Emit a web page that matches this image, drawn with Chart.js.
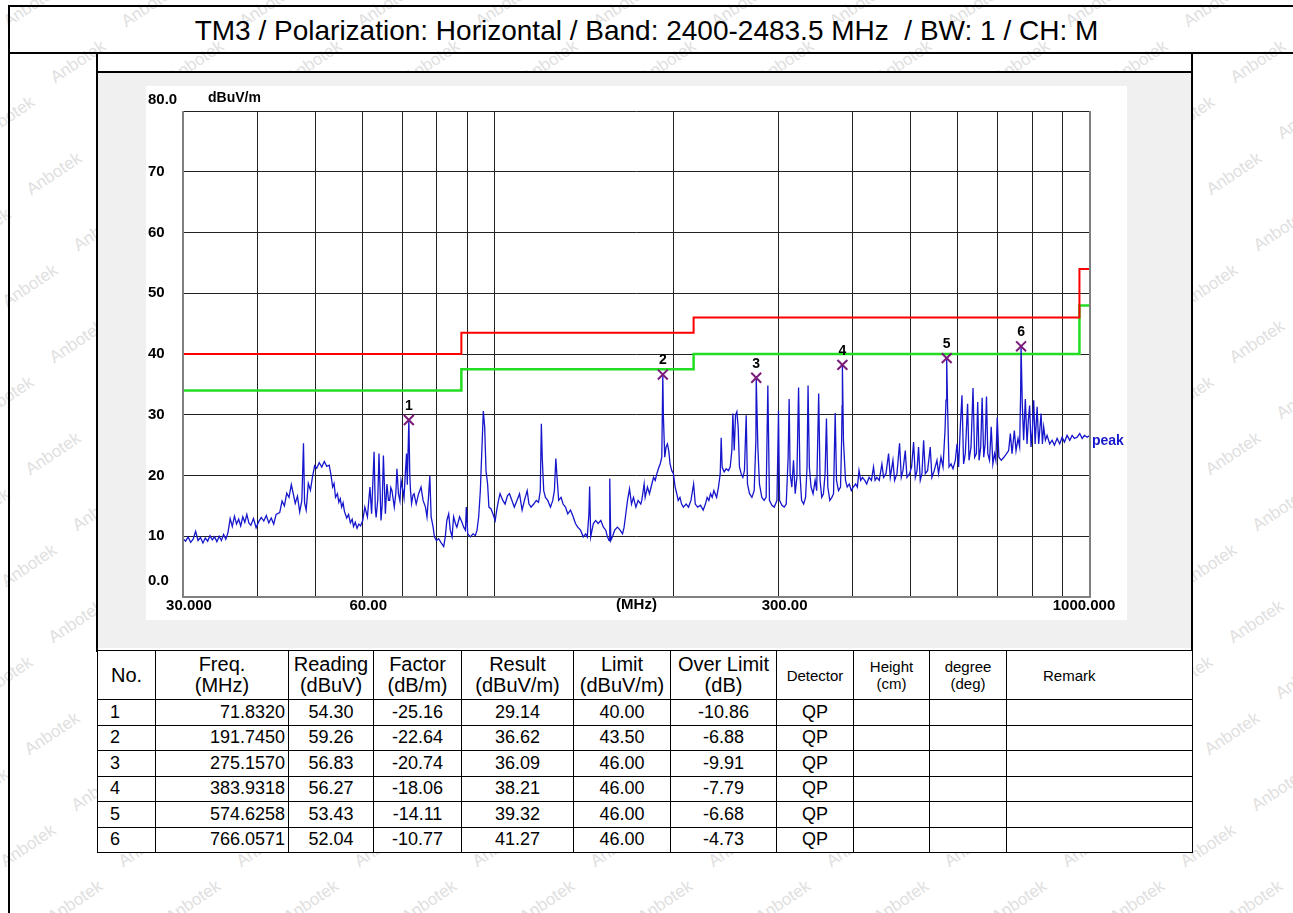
<!DOCTYPE html>
<html>
<head>
<meta charset="utf-8">
<script src="https://cdn.jsdelivr.net/npm/chart.js@4.4.0/dist/chart.umd.min.js"></script>
<style>
  body { margin: 0; background: #fff; font-family: "Liberation Sans", Arial, sans-serif; }
  #page { position: relative; width: 1293px; height: 913px; overflow: hidden; }
  .wm { position: absolute; color: #e0e0e0; font-size: 17px; transform: rotate(-34deg); white-space: nowrap; z-index: 0; }
  .ln { position: absolute; background: #000; z-index: 2; }
  #title { position: absolute; left: 0; width: 1293px; top: 15px; text-align: center; font-size: 28px; white-space: pre; color: #000; z-index: 2; }
  #panel { position: absolute; left: 98px; top: 73px; width: 1094px; height: 575px; background: #f0f0f0; z-index: 1; }
  #plot { position: absolute; left: 146px; top: 86px; background: #fff; z-index: 2; }
  #tbl { position: absolute; left: 97px; top: 650px; border-collapse: collapse; table-layout: fixed; width: 1096px; background: #fff; z-index: 2; }
  #tbl td, #tbl th { border: 1.5px solid #000; padding: 0; font-weight: normal; color: #000; text-align: center; white-space: nowrap; }
  #tbl th { height: 48px; font-size: 20px; line-height: 21px; }
  #tbl th.sm { font-size: 15px; line-height: 17px; }
  #tbl td { height: 24.5px; font-size: 18px; line-height: 19px; }
  #tbl td.no { text-align: left; padding-left: 12px; }
  #tbl td.fr { text-align: right; padding-right: 3px; }
</style>
</head>
<body>
<div id="page">
  <div class="ln" style="left:8px;top:5px;width:1285px;height:2px"></div>
  <div class="ln" style="left:8px;top:5px;width:2px;height:908px"></div>
  <div class="ln" style="left:8px;top:52px;width:1285px;height:2px"></div>
  <div id="title">TM3 / Polarization: Horizontal / Band: 2400-2483.5 MHz  / BW: 1 / CH: M</div>
  <div id="panel"></div>
  <div class="ln" style="left:96px;top:52px;width:2px;height:600px"></div>
  <div class="ln" style="left:1191px;top:52px;width:2px;height:600px"></div>
  <div class="ln" style="left:96px;top:71px;width:1097px;height:2px"></div>
  <canvas id="plot" width="981" height="534"></canvas>
  <table id="tbl">
    <colgroup>
      <col style="width:58px"><col style="width:133px"><col style="width:85px"><col style="width:88px">
      <col style="width:112px"><col style="width:97px"><col style="width:106px"><col style="width:77px">
      <col style="width:76px"><col style="width:77px"><col style="width:186px">
    </colgroup>
    <thead><tr id="head"></tr></thead>
    <tbody id="rows"></tbody>
  </table>
</div>
<script>
// measured trace, [MHz, dBuV/m]
const tracePoints = [
  [30.0, 9.6], [30.3, 9.2], [30.6, 9.9], [30.9, 9.0], [31.2, 9.5], [31.5, 10.8], [31.8, 9.3], [32.1, 9.8], [32.4, 8.9], [32.7, 9.7],
  [33.0, 9.2], [33.3, 10.1], [33.6, 9.4], [33.9, 9.9], [34.2, 9.1], [34.5, 10.0], [34.8, 9.3], [35.1, 10.3], [35.4, 9.5], [35.7, 10.6],
  [36.0, 12.9], [36.3, 11.6], [36.6, 13.3], [36.9, 12.0], [37.2, 12.8], [37.5, 11.7], [37.8, 13.2], [38.1, 12.3], [38.4, 13.6], [38.7, 12.2],
  [39.0, 11.8], [39.4, 12.9], [39.8, 11.4], [40.2, 12.4], [40.6, 13.1], [41.0, 12.5], [41.4, 13.4], [41.8, 12.2], [42.2, 13.0], [42.6, 12.0],
  [43.0, 13.6], [43.6, 13.9], [44.0, 15.8], [44.4, 15.0], [44.8, 17.1], [45.2, 16.4], [45.6, 18.5], [45.9, 17.2], [46.3, 15.4], [46.7, 16.6],
  [47.1, 14.0], [47.5, 15.9], [47.8, 25.3], [48.0, 15.5], [48.3, 14.3], [48.7, 18.7], [49.1, 17.6], [49.5, 19.8], [49.9, 21.6], [50.3, 21.2],
  [50.8, 22.1], [51.3, 21.4], [51.8, 22.3], [52.3, 21.5], [52.8, 21.7], [53.2, 19.9], [53.5, 18.1], [53.8, 18.7], [54.1, 16.4], [54.5, 17.0],
  [54.8, 15.6], [55.1, 16.2], [55.4, 14.8], [55.7, 15.5], [56.0, 14.1], [56.5, 13.0], [56.9, 13.6], [57.3, 12.2], [57.7, 12.8], [58.0, 11.6],
  [58.4, 12.3], [58.8, 11.3], [59.2, 12.0], [59.6, 11.7], [60.1, 12.6], [60.6, 14.8], [61.2, 13.2], [61.8, 18.1], [62.2, 13.7], [62.8, 23.9],
  [63.1, 14.5], [63.3, 13.1], [63.7, 16.0], [64.0, 23.6], [64.5, 12.6], [64.8, 15.2], [65.1, 23.3], [65.6, 13.7], [66.0, 18.6], [66.4, 15.9],
  [66.7, 15.9], [67.0, 18.0], [67.3, 17.5], [67.9, 14.8], [68.3, 17.0], [68.6, 21.1], [69.0, 17.0], [69.4, 15.8], [69.7, 19.2], [70.2, 17.5],
  [70.5, 16.3], [70.8, 19.7], [71.2, 23.6], [71.4, 18.5], [71.832, 29.14], [72.1, 20.0], [72.3, 17.5], [72.6, 15.4], [73.0, 16.8], [73.3, 17.0],
  [73.9, 15.3], [74.6, 17.0], [75.3, 18.1], [75.9, 15.9], [76.6, 14.8], [77.05, 13.2], [77.5, 16.4], [77.9, 19.9], [78.3, 13.2], [78.9, 11.5],
  [79.3, 9.9], [79.9, 9.3], [80.6, 9.6], [81.3, 9.0], [82.2, 8.3], [82.7, 9.9], [83.2, 12.6], [83.8, 13.7], [84.3, 11.0], [84.9, 9.9],
  [85.4, 13.2], [86.0, 12.1], [86.5, 11.5], [87.4, 13.2], [88.2, 12.3], [88.8, 11.5], [89.4, 11.0], [89.7, 14.8], [90.2, 10.4], [91.1, 9.9],
  [92.1, 10.4], [92.9, 10.1], [93.5, 11.0], [94.1, 13.2], [94.7, 17.5], [95.4, 25.8], [95.8, 30.6], [96.3, 28.0], [96.8, 20.8], [97.4, 18.6],
  [97.9, 14.8], [98.7, 14.5], [99.4, 13.7], [100.3, 12.6], [100.9, 14.3], [101.6, 15.9], [102.2, 17.0], [103.3, 15.9], [104.2, 15.3], [105.2, 16.7],
  [106.0, 17.0], [107.0, 15.9], [108.0, 14.8], [109.1, 15.9], [110.2, 17.0], [111.3, 14.3], [112.3, 15.9], [113.5, 17.5], [114.3, 15.3], [115.2, 14.8],
  [116.4, 15.3], [117.6, 15.9], [118.6, 15.6], [119.4, 17.5], [119.9, 28.5], [120.3, 23.0], [121.0, 17.5], [121.8, 16.4], [122.9, 15.9], [124.2, 14.8],
  [125.3, 15.9], [126.1, 17.5], [126.8, 22.8], [127.4, 19.7], [128.2, 15.9], [129.4, 16.4], [130.4, 15.3], [131.6, 14.8], [132.8, 13.7], [134.2, 14.3],
  [135.6, 13.2], [136.8, 12.1], [138.0, 11.5], [139.5, 11.0], [141.0, 9.9], [142.3, 10.4], [143.2, 9.9], [144.1, 13.7], [144.5, 18.2], [145.1, 9.9],
  [146.6, 12.1], [147.9, 12.6], [149.3, 12.1], [150.9, 12.6], [152.4, 11.5], [153.8, 11.0], [154.8, 9.9], [155.8, 9.3], [156.2, 19.5], [156.8, 9.3],
  [157.8, 9.9], [159.2, 11.0], [160.9, 11.5], [162.6, 11.0], [164.1, 10.4], [165.1, 11.5], [166.2, 13.7], [167.3, 15.9], [168.6, 17.8], [169.9, 15.3],
  [171.2, 16.4], [172.8, 14.8], [174.3, 15.9], [176.1, 15.3], [176.8, 15.9], [178.4, 18.6], [179.1, 16.4], [180.7, 18.1], [182.1, 17.0], [183.8, 18.6],
  [185.0, 19.7], [186.2, 19.2], [187.4, 20.3], [188.5, 21.1], [189.8, 21.9], [191.0, 23.0], [191.745, 36.62], [192.2, 29.6], [193.2, 23.0], [194.2, 24.7],
  [195.2, 25.2], [196.2, 24.1], [197.2, 21.9], [198.5, 20.8], [199.8, 20.3], [201.1, 18.1], [202.4, 17.0], [203.5, 15.9], [204.9, 16.4], [206.2, 15.3],
  [207.6, 14.8], [209.8, 15.3], [211.8, 14.8], [213.8, 15.9], [216.0, 18.6], [217.4, 15.3], [219.4, 14.8], [221.8, 15.1], [224.1, 14.3], [226.1, 15.3],
  [227.6, 16.4], [229.1, 15.9], [230.6, 17.0], [232.1, 16.4], [233.6, 17.5], [236.1, 16.4], [237.8, 18.1], [239.4, 20.3], [240.3, 26.2], [241.2, 21.4],
  [243.1, 20.6], [245.0, 21.1], [247.2, 20.8], [248.8, 21.4], [250.4, 24.1], [251.4, 30.2], [252.7, 24.1], [254.0, 29.9], [255.3, 30.5], [256.6, 28.0],
  [257.9, 21.4], [259.6, 20.3], [261.3, 19.7], [262.9, 20.8], [264.7, 29.9], [266.0, 18.6], [268.1, 17.0], [270.6, 16.4], [273.0, 17.5], [274.8, 25.8],
  [275.157, 36.09], [276.9, 24.7], [278.6, 18.6], [281.2, 16.4], [283.7, 15.9], [285.9, 16.4], [287.8, 34.8], [289.6, 15.9], [292.3, 15.1], [295.0, 14.8],
  [298.1, 15.9], [299.2, 24.7], [299.9, 30.7], [301.1, 15.9], [303.9, 15.1], [306.6, 14.8], [309.0, 15.3], [311.3, 23.0], [312.5, 32.6], [313.7, 20.3],
  [315.8, 18.1], [317.8, 22.5], [319.9, 17.0], [322.0, 19.7], [324.1, 34.5], [325.8, 20.3], [327.9, 15.9], [330.5, 15.3], [333.0, 16.4], [334.9, 21.4],
  [336.2, 34.8], [337.9, 21.4], [340.1, 18.1], [342.8, 17.0], [345.5, 19.2], [347.6, 17.5], [350.3, 33.5], [352.2, 19.2], [354.5, 16.4], [356.8, 17.0],
  [359.1, 20.3], [361.0, 29.4], [362.9, 18.1], [365.7, 15.9], [368.6, 16.4], [371.0, 17.0], [373.4, 30.3], [375.3, 19.2], [378.2, 17.5], [381.2, 18.1],
  [382.8, 25.8], [383.5, 31.5], [383.932, 38.21], [385.5, 25.8], [388.6, 19.2], [391.2, 18.1], [394.3, 18.6], [397.4, 17.5], [400.5, 18.1], [404.1, 18.6],
  [406.8, 18.1], [409.4, 20.8], [412.1, 19.2], [414.9, 19.7], [418.6, 19.2], [421.8, 18.6], [425.7, 19.7], [429.6, 19.2], [433.0, 21.4], [435.7, 19.2],
  [438.7, 19.7], [442.7, 19.2], [447.3, 21.9], [450.2, 19.7], [454.4, 20.3], [459.0, 23.6], [462.0, 19.7], [466.8, 22.5], [469.8, 19.2], [474.1, 20.3],
  [478.9, 25.3], [482.1, 19.7], [485.2, 20.8], [489.6, 24.1], [492.8, 19.7], [497.8, 20.3], [501.7, 21.4], [505.6, 25.5], [509.0, 19.7], [512.3, 20.8],
  [515.4, 24.7], [518.8, 19.2], [522.2, 20.3], [525.6, 25.8], [529.0, 20.3], [533.7, 20.8], [539.2, 24.7], [542.7, 19.7], [547.6, 20.8], [553.4, 22.5],
  [556.8, 20.3], [562.1, 23.0], [566.5, 21.4], [570.9, 27.4], [573.1, 32.4], [574.626, 39.32], [576.6, 31.3], [579.8, 21.4], [584.3, 21.9], [588.8, 21.1],
  [594.1, 22.5], [598.1, 25.2], [601.7, 21.4], [605.7, 28.0], [609.6, 33.2], [613.4, 21.9], [617.5, 23.6], [623.0, 31.8], [626.4, 22.5], [631.3, 24.7],
  [636.2, 34.4], [640.2, 23.0], [644.5, 23.6], [647.8, 32.1], [651.3, 22.5], [655.4, 24.7], [659.0, 32.8], [663.1, 23.0], [666.7, 25.2], [670.2, 33.0],
  [673.6, 23.6], [678.1, 22.5], [682.6, 28.0], [686.9, 21.9], [691.4, 23.6], [694.9, 22.5], [698.7, 29.6], [703.1, 23.0], [709.6, 22.5], [716.8, 23.0],
  [724.3, 23.6], [730.1, 24.1], [735.0, 26.9], [739.8, 23.6], [746.4, 27.4], [751.3, 24.1], [757.1, 26.1], [761.8, 24.7], [764.8, 33.7], [766.057, 41.27],
  [769.8, 31.5], [773.7, 25.8], [778.8, 32.6], [783.9, 25.2], [787.9, 29.1], [791.9, 31.5], [796.2, 24.7], [800.3, 27.4], [804.4, 32.4], [808.8, 25.2],
  [815.1, 31.3], [820.0, 25.2], [827.7, 30.2], [831.9, 25.2], [836.1, 28.0], [841.6, 25.8], [847.1, 26.6], [855.7, 25.2], [863.7, 25.8], [871.5, 25.0],
  [880.6, 26.1], [889.5, 25.2], [897.9, 26.3], [905.9, 25.5], [915.2, 26.6], [924.6, 25.8], [933.2, 26.6], [941.6, 26.1], [951.4, 26.3], [961.1, 26.9],
  [970.2, 26.1], [978.9, 26.6], [989.2, 26.3], [1000, 26.6]
];

// limit line (red) and margin line (green)
const limitFreq = [30, 88, 216, 960, 1000];
const limitQP = [40, 43.5, 46, 54, 54];
const marginLine = [34, 37.5, 40, 48, 48];

// peak list
const markerNo = [1, 2, 3, 4, 5, 6];
const markerFreq = [71.8320, 191.7450, 275.1570, 383.9318, 574.6258, 766.0571];
const markerReading = [54.30, 59.26, 56.83, 56.27, 53.43, 52.04];
const markerFactor = [-25.16, -22.64, -20.74, -18.06, -14.11, -10.77];
const markerResult = [29.14, 36.62, 36.09, 38.21, 39.32, 41.27];
const markerLimit = [40.00, 43.50, 46.00, 46.00, 46.00, 46.00];
const markerOver = [-10.86, -6.88, -9.91, -7.79, -6.68, -4.73];
const markerDetector = ['QP', 'QP', 'QP', 'QP', 'QP', 'QP'];

// axes
const yTickValues = [80, 70, 60, 50, 40, 30, 20, 10, 0];
const yTickLabels = ['80.0', '70', '60', '50', '40', '30', '20', '10', '0.0'];
const xGridValues = [30, 40, 50, 60, 70, 80, 90, 100, 200, 300, 400, 500, 600, 700, 800, 900, 1000];
const xTickValues = [30, 60, 300, 1000];
const xTickLabels = ['30.000', '60.00', '300.00', '1000.000'];

const headers = [['No.', ''], ['Freq.<br>(MHz)', ''], ['Reading<br>(dBuV)', ''], ['Factor<br>(dB/m)', ''], ['Result<br>(dBuV/m)', ''],
  ['Limit<br>(dBuV/m)', ''], ['Over Limit<br>(dB)', ''], ['Detector', 'sm'], ['Height<br>(cm)', 'sm'], ['degree<br>(deg)', 'sm'], ['Remark', 'sm']];

// faint background watermark
const page = document.getElementById('page');
for (let r = 0; r < 17; r++) {
  for (let c = -1; c < 12; c++) {
    const w = document.createElement('div');
    w.className = 'wm';
    w.textContent = 'Anbotek';
    w.style.left = (c * 118 + (r * 47) % 118) + 'px';
    w.style.top = (r * 56 - 4) + 'px';
    page.appendChild(w);
  }
}

const head = document.getElementById('head');
headers.forEach(h => {
  const th = document.createElement('th');
  th.innerHTML = h[0];
  if (h[1]) th.className = h[1];
  head.appendChild(th);
});
head.lastChild.style.textAlign = 'left';
head.lastChild.style.paddingLeft = '36px';

const rows = document.getElementById('rows');
markerNo.forEach((n, i) => {
  const tr = document.createElement('tr');
  const cells = [n, markerFreq[i].toFixed(4), markerReading[i].toFixed(2), markerFactor[i].toFixed(2), markerResult[i].toFixed(2),
    markerLimit[i].toFixed(2), markerOver[i].toFixed(2), markerDetector[i], '', '', ''];
  cells.forEach((c, j) => {
    const td = document.createElement('td');
    td.textContent = c;
    if (j === 0) td.className = 'no';
    if (j === 1) td.className = 'fr';
    tr.appendChild(td);
  });
  rows.appendChild(tr);
});

const overlay = {
  id: 'overlay',
  afterDatasetsDraw(chart) {
    const { ctx, chartArea: a, scales: { x, y } } = chart;
    ctx.save();
    ctx.strokeStyle = '#808080';
    ctx.lineWidth = 2;
    ctx.beginPath();
    ctx.moveTo(a.left, a.top);
    ctx.lineTo(a.left, a.bottom);
    ctx.lineTo(a.right, a.bottom);
    ctx.lineTo(a.right, a.top);
    ctx.stroke();

    ctx.fillStyle = '#000';
    ctx.font = 'bold 15px "Liberation Sans", Arial, sans-serif';
    ctx.textBaseline = 'middle';
    ctx.textAlign = 'left';
    yTickValues.forEach((v, i) => {
      let py = y.getPixelForValue(v);
      if (i === 0) py -= 11;
      if (i === yTickValues.length - 1) py -= 16;
      ctx.fillText(yTickLabels[i], a.left - 35, py);
    });
    ctx.textAlign = 'center';
    xTickValues.forEach((v, i) => {
      const dx = i === xTickValues.length - 1 ? -6 : 6;
      ctx.fillText(xTickLabels[i], x.getPixelForValue(v) + dx, a.bottom + 9);
    });
    ctx.fillText('(MHz)', (a.left + a.right) / 2, a.bottom + 8);
    ctx.font = 'bold 14px "Liberation Sans", Arial, sans-serif';
    ctx.textAlign = 'left';
    ctx.fillText('dBuV/m', a.left + 25, a.top - 13);

    ctx.font = 'bold 14px "Liberation Sans", Arial, sans-serif';
    ctx.textAlign = 'center';
    markerNo.forEach((n, i) => {
      ctx.fillText(String(n), x.getPixelForValue(markerFreq[i]), y.getPixelForValue(markerResult[i]) - 14);
    });

    const last = tracePoints[tracePoints.length - 1];
    ctx.fillStyle = '#1616cc';
    ctx.font = 'bold 14px "Liberation Sans", Arial, sans-serif';
    ctx.textAlign = 'left';
    ctx.fillText('peak', a.right + 2, y.getPixelForValue(last[1]) + 6);
    ctx.restore();
  }
};

new Chart(document.getElementById('plot'), {
  type: 'line',
  data: {
    datasets: [
      {
        label: 'markers',
        data: markerFreq.map((f, i) => ({ x: f, y: markerResult[i] })),
        showLine: false,
        pointStyle: 'crossRot',
        pointRadius: 7,
        borderColor: '#7a1a7a',
        borderWidth: 2,
        order: 0
      },
      {
        label: 'peak',
        data: tracePoints.map(p => ({ x: p[0], y: p[1] })),
        borderColor: '#1616cc',
        borderWidth: 1.3,
        pointRadius: 0,
        order: 1
      },
      {
        label: 'limit',
        data: limitFreq.map((f, i) => ({ x: f, y: limitQP[i] })),
        borderColor: '#ff0000',
        borderWidth: 2,
        stepped: 'before',
        pointRadius: 0,
        order: 2
      },
      {
        label: 'margin',
        data: limitFreq.map((f, i) => ({ x: f, y: marginLine[i] })),
        borderColor: '#22dd22',
        borderWidth: 2.5,
        stepped: 'before',
        pointRadius: 0,
        order: 3
      }
    ]
  },
  options: {
    responsive: false,
    animation: false,
    layout: { padding: { left: 37, right: 37, top: 25, bottom: 23 } },
    plugins: { legend: { display: false }, tooltip: { enabled: false } },
    scales: {
      x: {
        type: 'logarithmic',
        min: 30,
        max: 1000,
        afterBuildTicks: scale => { scale.ticks = xGridValues.map(v => ({ value: v })); },
        ticks: { display: false },
        grid: { color: '#222', lineWidth: 1, drawTicks: false },
        border: { display: false }
      },
      y: {
        min: 0,
        max: 80,
        ticks: { display: false, stepSize: 10 },
        grid: { color: '#222', lineWidth: 1, drawTicks: false },
        border: { display: false }
      }
    }
  },
  plugins: [overlay]
});
</script>
</body>
</html>
